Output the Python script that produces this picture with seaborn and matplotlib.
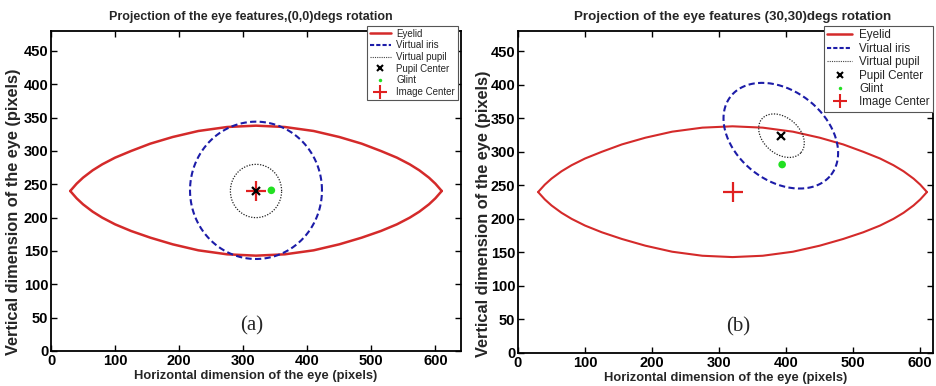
import numpy as np
import pandas as pd
import matplotlib
matplotlib.use("Agg")
import matplotlib.pyplot as plt
from matplotlib.lines import Line2D
import seaborn as sns

# ---------------- data ----------------
eyelid_x = [30, 40, 50, 65, 80, 100, 125, 155, 190, 230, 275, 320,
            365, 410, 450, 485, 515, 540, 560, 575, 590, 600, 610]
eyelid_upper = [240, 251, 260, 271, 280, 290, 300, 311, 321, 330, 336, 338,
                336, 330, 321, 311, 300, 290, 280, 271, 260, 251, 240]
eyelid_lower = [240, 229, 220, 209, 200, 190, 180, 170, 160, 151, 145, 143,
                145, 151, 160, 170, 180, 190, 200, 209, 220, 229, 240]

# (cx, cy, semi-axis a, semi-axis b, angle deg)
iris_a = [320, 241, 103, 103, 0]
pupil_a = [320, 240, 40, 40, 0]
pupil_center_a = [320, 240]
glint_a = [344, 241]
image_center_a = [320, 240]

iris_b = [392, 324, 95, 67, -38]
pupil_b = [393, 324, 38.5, 27, -41]
pupil_center_b = [393, 324]
glint_b = [394, 281]
image_center_b = [320, 240]

titles = ["Projection of the eye features,(0,0)degs rotation",
          "Projection of the eye features (30,30)degs rotation"]
panel_labels = ["(a)", "(b)"]
legend_labels = ["Eyelid", "Virtual iris", "Virtual pupil", "Pupil Center",
                 "Glint", "Image Center"]
x_ticks = [0, 100, 200, 300, 400, 500, 600]
y_ticks = [0, 50, 100, 150, 200, 250, 300, 350, 400, 450]


def ellipse_df(p, n=240):
    cx, cy, a, b, ang = p
    t = np.linspace(0, 2 * np.pi, n)
    th = np.deg2rad(ang)
    x = cx + a * np.cos(t) * np.cos(th) - b * np.sin(t) * np.sin(th)
    y = cy + a * np.cos(t) * np.sin(th) + b * np.sin(t) * np.cos(th)
    return pd.DataFrame({"x": x, "y": y})


sns.set_style("ticks")
plt.rcParams["font.family"] = ["Liberation Sans", "DejaVu Sans"]

RED = "#d42a2a"
BLUE = "#1c1ca8"
GREEN = "#22e022"

fig = plt.figure(figsize=(9.36, 3.86), dpi=100)
ax1 = fig.add_axes([0.0545, 0.0907, 0.438, 0.829])
ax2 = fig.add_axes([0.5534, 0.0855, 0.4434, 0.834])

# ax, iris, pupil, pupil centre, glint, image centre, xmax, title size, legend size,
# eyelid width, title x, legend labelspacing, ylabel x
panels = [
    (ax1, iris_a, pupil_a, pupil_center_a, glint_a, image_center_a, 640, 9.0, 7.0, 1.8,
     0.488, 0.17, -0.073),
    (ax2, iris_b, pupil_b, pupil_center_b, glint_b, image_center_b, 619, 9.6, 8.4, 1.5,
     0.517, 0.12, -0.065),
]

eyelid_df_u = pd.DataFrame({"x": eyelid_x, "y": eyelid_upper})
eyelid_df_l = pd.DataFrame({"x": eyelid_x, "y": eyelid_lower})

for i, (ax, iris, pupil, pc, gl, ic, xmax, tfs, lfs, elw, tx, lsp, ylx) in enumerate(panels):
    sns.lineplot(data=eyelid_df_u, x="x", y="y", ax=ax, sort=False, estimator=None,
                 color=RED, lw=elw)
    sns.lineplot(data=eyelid_df_l, x="x", y="y", ax=ax, sort=False, estimator=None,
                 color=RED, lw=elw)
    sns.lineplot(data=ellipse_df(iris), x="x", y="y", ax=ax, sort=False, estimator=None,
                 color=BLUE, lw=1.5, linestyle=(0, (3, 1.6)))
    sns.lineplot(data=ellipse_df(pupil), x="x", y="y", ax=ax, sort=False, estimator=None,
                 color="#222222", lw=0.9, linestyle=(0, (1, 1.2)))
    ax.plot([ic[0]], [ic[1]], marker="+", color="#e02020", markersize=14, mew=1.6,
            linestyle="none")
    ax.plot([pc[0]], [pc[1]], marker="x", color="black", markersize=6, mew=1.6,
            linestyle="none")
    sns.scatterplot(x=[gl[0]], y=[gl[1]], ax=ax, color=GREEN, s=30, edgecolor="none",
                    zorder=5)

    ax.set_xlim(0, xmax)
    ax.set_ylim(0, 480)
    ax.set_xticks(x_ticks)
    ax.set_yticks(y_ticks)
    ax.tick_params(direction="in", top=True, right=True, length=4, width=1,
                   labelsize=10.5, pad=2, colors="black")
    for lab in ax.get_xticklabels() + ax.get_yticklabels():
        lab.set_fontweight("bold")
    for s in ax.spines.values():
        s.set_visible(True)
        s.set_linewidth(1.3)
        s.set_color("black")
    ax.set_xlabel("Horizontal dimension of the eye (pixels)", fontsize=9.3,
                  fontweight="bold", labelpad=1.5)
    ax.set_ylabel("Vertical dimension of the eye (pixels)", fontsize=11.8,
                  fontweight="bold")
    ax.yaxis.set_label_coords(ylx, 0.434)
    ax.set_title(titles[i], fontsize=tfs, fontweight="bold", pad=8, x=tx)
    ax.text(0.49 if i == 0 else 0.53, 0.08, panel_labels[i], transform=ax.transAxes,
            ha="center", va="center", fontsize=15, family=["Liberation Serif", "DejaVu Serif"])

    handles = [
        Line2D([], [], color=RED, lw=1.8),
        Line2D([], [], color=BLUE, lw=1.5, linestyle=(0, (2, 1))),
        Line2D([], [], color="#444444", lw=0.8, linestyle=(0, (1, 1))),
        Line2D([], [], color="black", marker="x", linestyle="none", markersize=5, mew=1.5),
        Line2D([], [], color=GREEN, marker="o", linestyle="none", markersize=2.5, mew=0),
        Line2D([], [], color="#e02020", marker="+", linestyle="none", markersize=10, mew=1.5),
    ]
    leg = ax.legend(handles, legend_labels, loc="upper right",
                    bbox_to_anchor=(0.993 if i == 0 else 1.0, 1.016),
                    fontsize=lfs, frameon=True, fancybox=False, framealpha=1,
                    edgecolor="#555555", borderpad=0.3, labelspacing=lsp,
                    handlelength=2.1, handletextpad=0.6, borderaxespad=0)
    leg.get_frame().set_linewidth(0.8)

fig.savefig("out.png", dpi=100)
